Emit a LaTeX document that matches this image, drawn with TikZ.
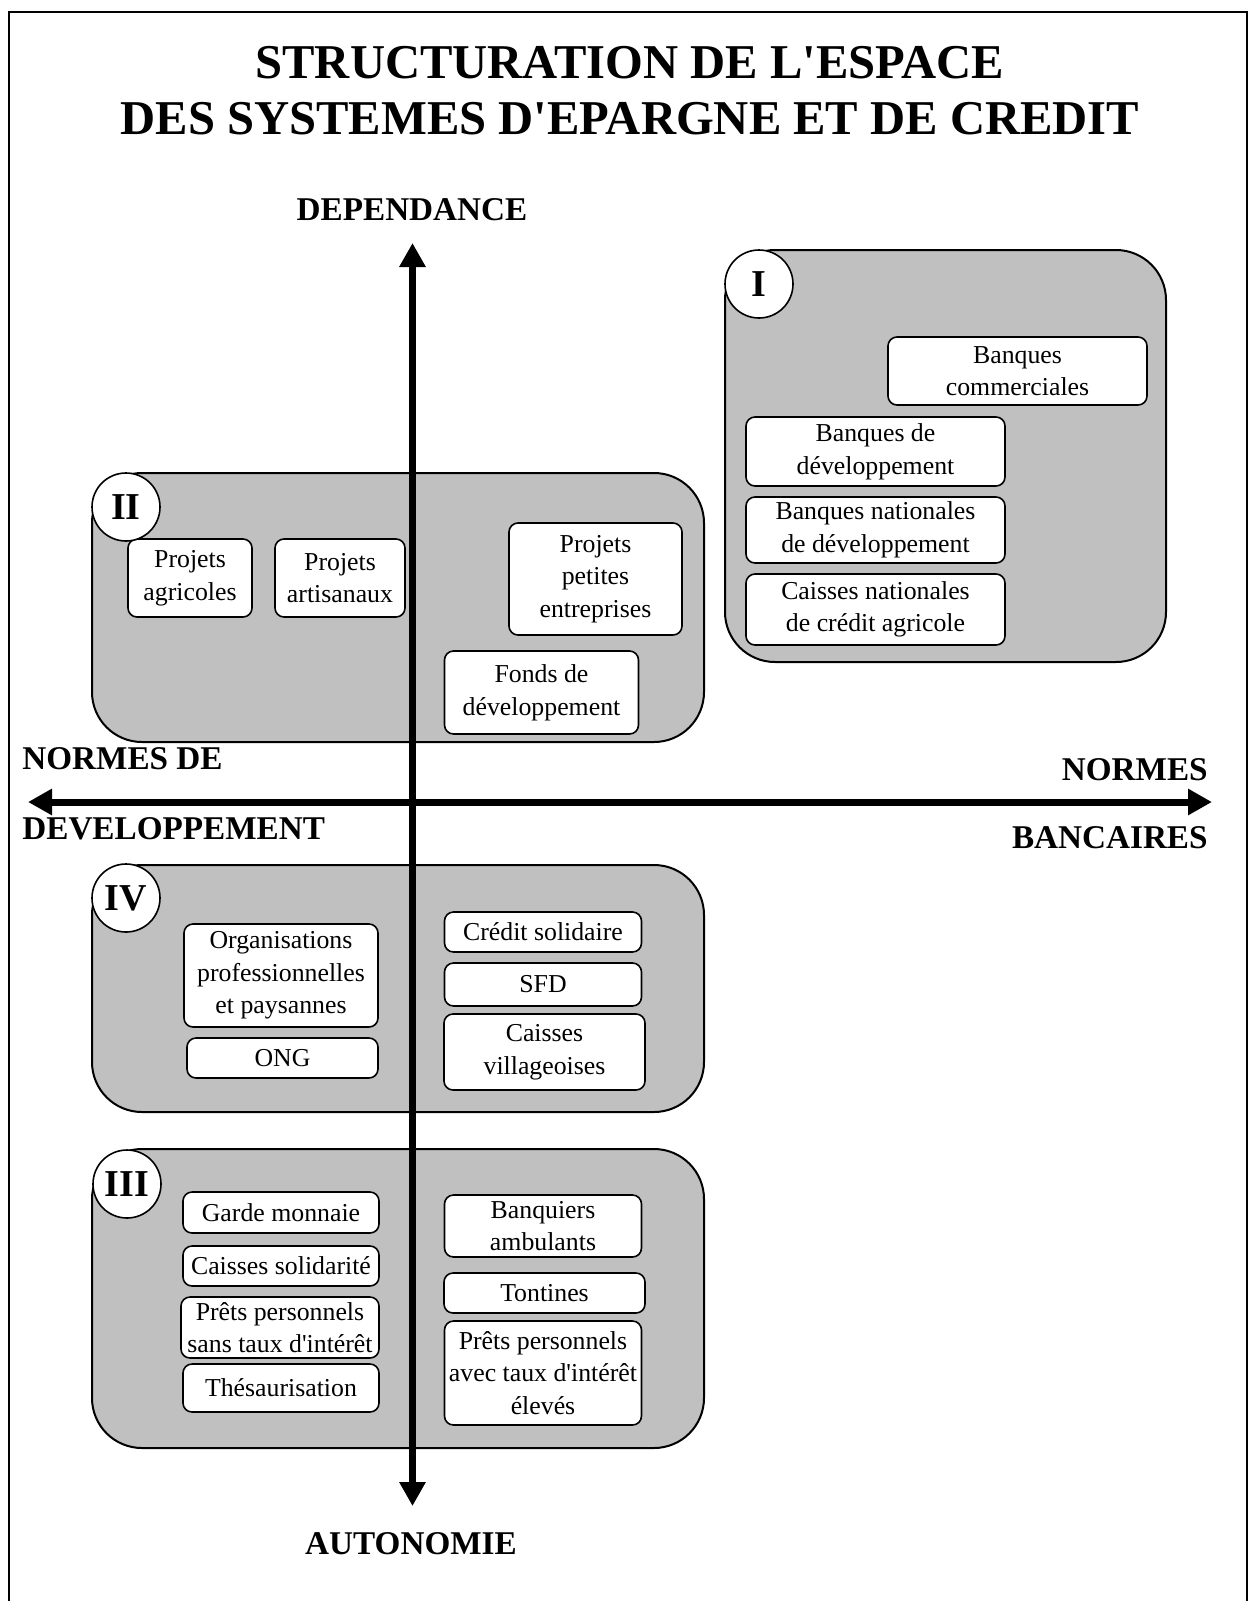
\documentclass[tikz,border=0pt]{standalone}
\usepackage{fontspec}
\setmainfont{Liberation Serif}
\usetikzlibrary{arrows.meta}
\definecolor{panelgray}{RGB}{192,192,192}
\tikzset{
    panel/.style={draw, line width=1pt, fill=panelgray, rounded corners=25pt},
    box/.style={draw, line width=0.8pt, fill=white, rounded corners=4.5pt, align=center, inner sep=0pt, font=\fontsize{12.9}{16.3}\selectfont},
    sz/.style 2 args={minimum width=#1*0.5pt, minimum height=#2*0.5pt},
    num/.style={draw, line width=0.8pt, fill=white, circle, minimum size=34pt, inner sep=0pt, font=\fontsize{19}{19}\selectfont\bfseries},
    axlabel/.style={inner sep=0pt, font=\fontsize{16.6}{16.6}\selectfont\bfseries},
    axis/.style={line width=3.5pt, {Triangle[length=12pt,width=12.5pt]}-{Triangle[length=12pt,width=12.5pt]}}
}

\begin{document}
\begin{tikzpicture}[x=0.5pt,y=-0.5pt]
    \useasboundingbox (0,0) rectangle (1248,1601);
    \draw[line width=1pt] (9,1601) -- (9,12) -- (1247,12) -- (1247,1601);

    \node[inner sep=0pt, anchor=base, font=\fontsize{24.3}{28}\selectfont\bfseries] (T1) at (630,78) {STRUCTURATION DE L\textquotesingle ESPACE};
    \node[inner sep=0pt, anchor=base, font=\fontsize{24.3}{28}\selectfont\bfseries] (T2) at (630,134) {DES SYSTEMES D\textquotesingle EPARGNE ET DE CREDIT};

    \draw[panel] (725,250) rectangle (1166,662);
    \draw[panel] (92,473) rectangle (704,742);
    \draw[panel] (92,865) rectangle (704,1112);
    \draw[panel] (92,1149) rectangle (704,1448);

    \coordinate (N) at (412.5,243);
    \coordinate (S) at (412.5,1506);
    \coordinate (W) at (28,802);
    \coordinate (E) at (1212,802);
    \draw[axis] (S) -- (N);
    \draw[axis] (W) -- (E);

    \node[axlabel, anchor=base] (DEP) at (412,220) {DEPENDANCE};
    \node[axlabel, anchor=base] (AUT) at (411,1554) {AUTONOMIE};
    \node[axlabel, anchor=base west] (ND) at (22,769) {NORMES DE};
    \node[axlabel, anchor=base west] (DEV) at (22,839) {DEVELOPPEMENT};
    \node[axlabel, anchor=base east] (NB) at (1208,780) {NORMES};
    \node[axlabel, anchor=base east] (BAN) at (1208,848) {BANCAIRES};

    \node[box, sz={259}{68}] (BC) at (1017.5,371) {Banques\\commerciales};
    \node[box, sz={259}{69}] (BD) at (875.5,451.5) {Banques de\\développement};
    \node[box, sz={259}{66}] (BN) at (875.5,530) {Banques nationales\\de développement};
    \node[box, sz={259}{71}] (CN) at (875.5,609.5) {Caisses nationales\\de crédit agricole};

    \node[box, sz={124}{78}] (PA) at (190,578) {Projets\\agricoles};
    \node[box, sz={130}{78}] (PR) at (340,578) {Projets\\artisanaux};
    \node[box, sz={173}{112}] (PP) at (595.5,579) {Projets\\petites\\entreprises};
    \node[box, sz={194}{83}] (FD) at (541.5,692.5) {Fonds de\\développement};

    \node[box, sz={194}{103}] (OP) at (281,975.5) {Organisations\\professionnelles\\et paysannes};
    \node[box, sz={191}{40}] (ONG) at (282.5,1058) {ONG};
    \node[box, sz={197}{40}] (CS) at (543,932) {Crédit solidaire};
    \node[box, sz={197}{43}] (SFD) at (543,984.5) {SFD};
    \node[box, sz={201}{76}] (CV) at (544.5,1052) {Caisses\\villageoises};

    \node[box, sz={196}{41}] (GM) at (281,1212.5) {Garde monnaie};
    \node[box, sz={196}{40}] (CSO) at (281,1266) {Caisses solidarité};
    \node[box, sz={198}{61}] (PS) at (280,1327.5) {Prêts personnels\\sans taux d\textquotesingle intérêt};
    \node[box, sz={196}{48}] (TH) at (281,1388) {Thésaurisation};
    \node[box, sz={197}{62}] (BA) at (543,1226) {Banquiers\\ambulants};
    \node[box, sz={201}{40}] (TO) at (544.5,1293) {Tontines};
    \node[box, sz={197}{104}] (PV) at (543,1373) {Prêts personnels\\avec taux d\textquotesingle intérêt\\élevés};

    \node[num] (QI) at (759,284) {I};
    \node[num] (QII) at (126,507) {II};
    \node[num] (QIV) at (126,898) {IV};
    \node[num] (QIII) at (127,1184) {III};
\end{tikzpicture}
\end{document}
